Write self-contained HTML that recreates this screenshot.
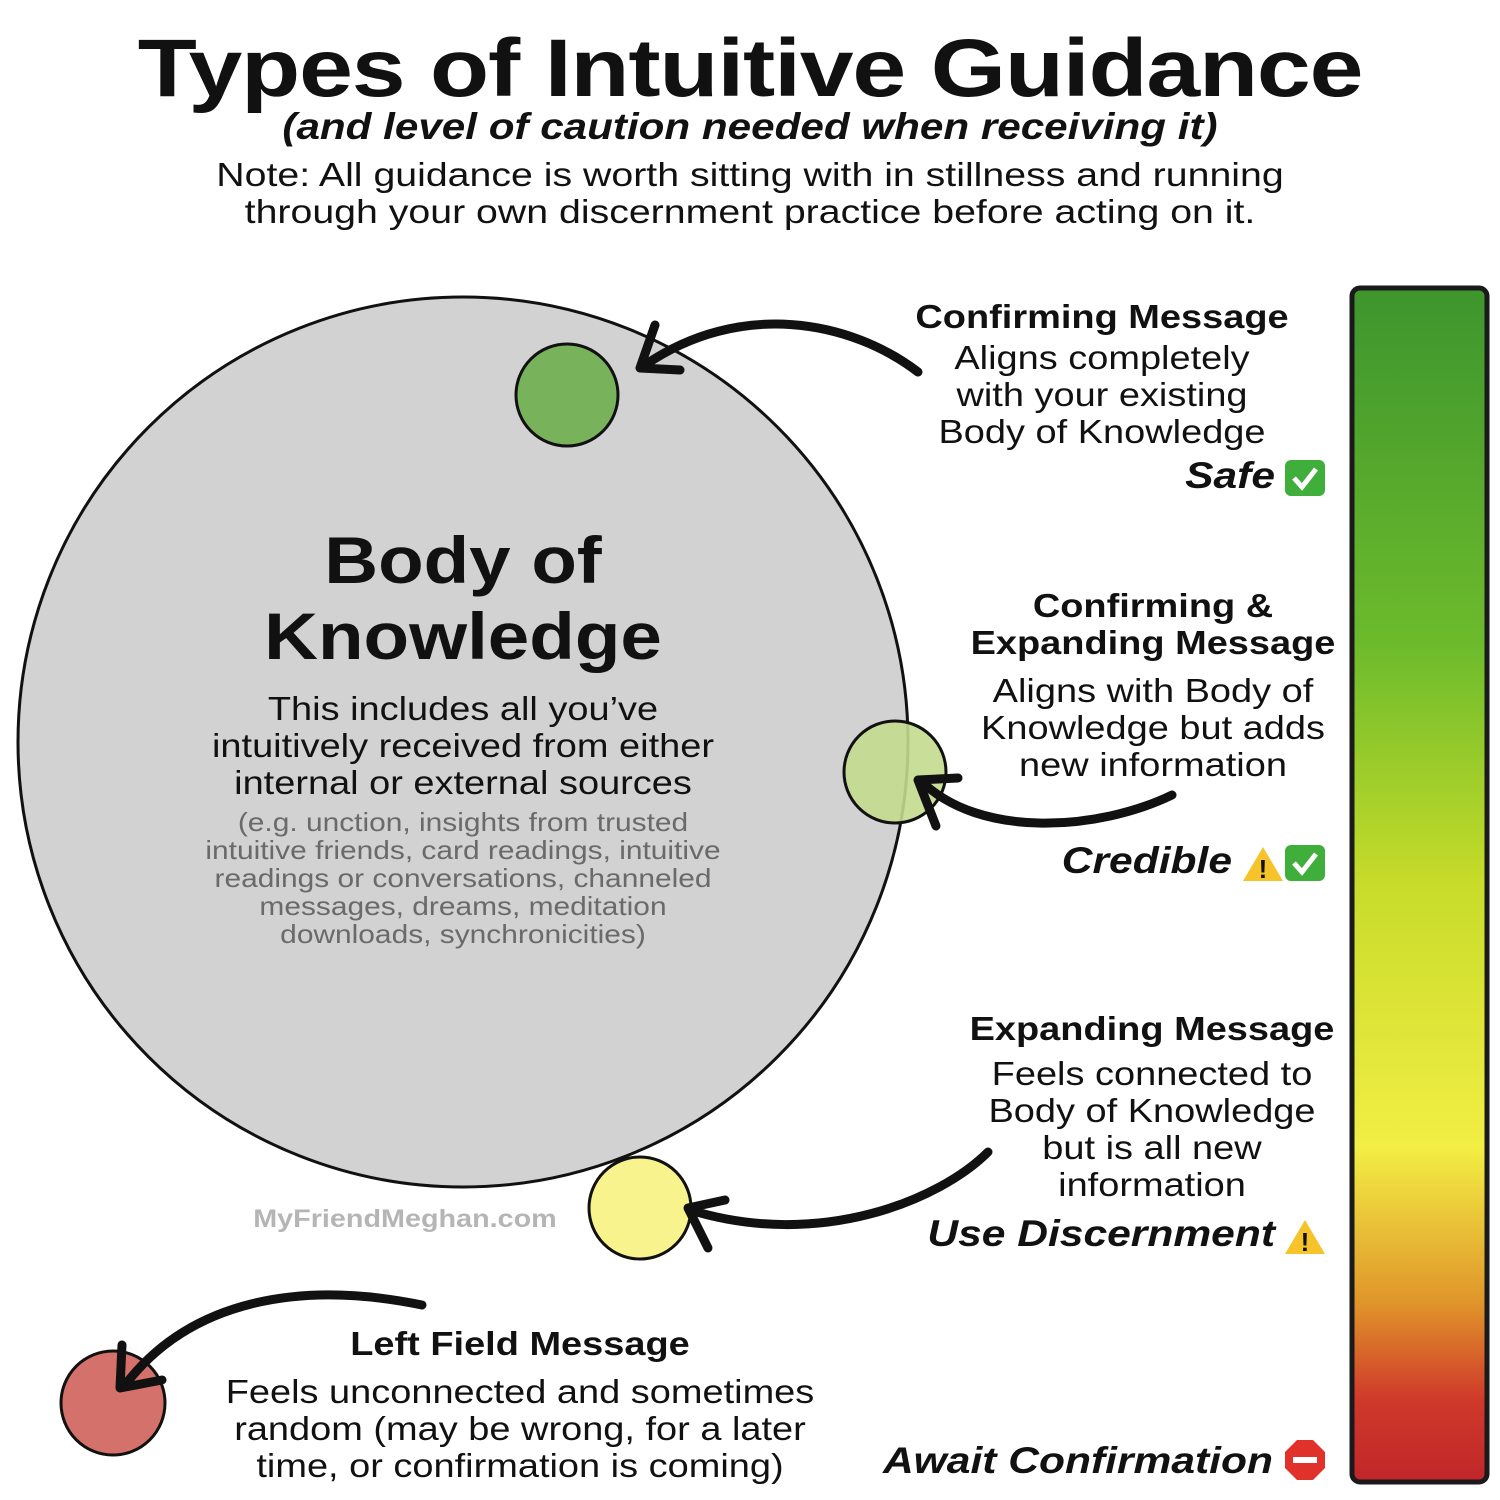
<!DOCTYPE html>
<html><head><meta charset="utf-8">
<style>
html,body{margin:0;padding:0;background:#fff;}
body{width:1500px;height:1500px;position:relative;overflow:hidden;font-family:"Liberation Sans","DejaVu Sans",sans-serif;color:#111;}
.t{position:absolute;white-space:nowrap;text-align:center;transform:scaleX(1.15);transform-origin:center;}
.r{transform-origin:right center;}
</style></head><body>
<svg width="1500" height="1500" style="position:absolute;left:0;top:0">
<defs>
<linearGradient id="g" x1="0" y1="0" x2="0" y2="1">
<stop offset="0" stop-color="#3d952d"/>
<stop offset="0.3" stop-color="#6dbb2c"/>
<stop offset="0.5" stop-color="#c8dc2a"/>
<stop offset="0.72" stop-color="#f2ee44"/>
<stop offset="0.85" stop-color="#e0952a"/>
<stop offset="0.93" stop-color="#cf3a2a"/>
<stop offset="1" stop-color="#c0262a"/>
</linearGradient>
</defs>
<rect x="1352" y="288" width="135" height="1194" rx="8" fill="url(#g)" stroke="#1a1a1a" stroke-width="5"/>
<circle cx="463" cy="742" r="445" fill="#d2d2d2" stroke="#111" stroke-width="3"/>
<circle cx="567" cy="395" r="51" fill="#78b35c" stroke="#111" stroke-width="3"/>
<circle cx="895" cy="772" r="51" fill="#c3dc8e" fill-opacity="0.9" stroke="#111" stroke-width="3"/>
<circle cx="640" cy="1208" r="51" fill="#f8f38c" stroke="#111" stroke-width="3"/>
<circle cx="113" cy="1403" r="52" fill="#d4716b" stroke="#111" stroke-width="3"/>
<g fill="none" stroke="#111" stroke-width="9" stroke-linecap="round" stroke-linejoin="round">
<path d="M918 372 C850 320 740 300 645 365"/>
<path d="M655 325 L640 368 L680 370"/>
<path d="M1172 795 C1100 830 980 840 920 780"/>
<path d="M958 778 L918 780 L936 826"/>
<path d="M988 1152 C940 1200 820 1250 690 1210"/>
<path d="M725 1200 L688 1208 L708 1248"/>
<path d="M422 1305 C300 1280 190 1300 125 1385"/>
<path d="M122 1345 L120 1388 L162 1380"/>
</g>
<g transform="translate(1285,460)"><rect width="40" height="36" rx="6" fill="#3fae3a"/><path d="M9 18 L17 27 L31 9" stroke="#fff" stroke-width="5" fill="none"/></g>
<g transform="translate(1285,845)"><rect width="40" height="36" rx="6" fill="#3fae3a"/><path d="M9 18 L17 27 L31 9" stroke="#fff" stroke-width="5" fill="none"/></g>
<g transform="translate(1243,845)"><path d="M20 2 L40 36 L0 36 Z" fill="#f6c42a"/><text x="20" y="33" font-size="26" font-weight="bold" text-anchor="middle" fill="#111" font-family="Liberation Sans">!</text></g>
<g transform="translate(1285,1218)"><path d="M20 2 L40 36 L0 36 Z" fill="#f6c42a"/><text x="20" y="33" font-size="26" font-weight="bold" text-anchor="middle" fill="#111" font-family="Liberation Sans">!</text></g>
<g transform="translate(1305,1460)"><polygon points="-8,-20 8,-20 20,-8 20,8 8,20 -8,20 -20,8 -20,-8" fill="#e0322a"/><rect x="-12" y="-3" width="24" height="6" fill="#fff"/></g>
</svg>
<div class="t" style="left:0;width:1500px;top:22px;font-size:82px;font-weight:bold;letter-spacing:-1px;transform:scaleX(1.18)">Types of Intuitive Guidance</div>
<div class="t" style="left:0;width:1500px;top:106px;font-size:37px;font-weight:bold;font-style:italic;transform:scaleX(1.14)">(and level of caution needed when receiving it)</div>
<div class="t" style="left:0;width:1500px;top:156px;font-size:33px;line-height:37px;transform:scaleX(1.19)">Note: All guidance is worth sitting with in stillness and running<br>through your own discernment practice before acting on it.</div>
<div class="t" style="left:213px;width:500px;top:522px;font-size:66px;font-weight:bold;line-height:76px;transform:scaleX(1.13)">Body of<br>Knowledge</div>
<div class="t" style="left:163px;width:600px;top:690px;font-size:33px;line-height:37px">This includes all you’ve<br>intuitively received from either<br>internal or external sources</div>
<div class="t" style="left:163px;width:600px;top:808px;font-size:26px;line-height:28px;color:#6a6a6a">(e.g. unction, insights from trusted<br>intuitive friends, card readings, intuitive<br>readings or conversations, channeled<br>messages, dreams, meditation<br>downloads, synchronicities)</div>
<div class="t" style="left:250px;width:310px;top:1205px;font-size:25px;color:#b5b5b5;font-weight:bold">MyFriendMeghan.com</div>
<div class="t" style="left:902px;width:400px;top:298px;font-size:33px;font-weight:bold">Confirming Message</div>
<div class="t" style="left:902px;width:400px;top:339px;font-size:33px;line-height:37px">Aligns completely<br>with your existing<br>Body of Knowledge</div>
<div class="t r" style="left:1100px;width:175px;top:455px;font-size:37px;font-weight:bold;font-style:italic;text-align:right">Safe</div>
<div class="t" style="left:953px;width:400px;top:587px;font-size:33px;font-weight:bold;line-height:37px">Confirming &amp;<br>Expanding Message</div>
<div class="t" style="left:953px;width:400px;top:672px;font-size:33px;line-height:37px">Aligns with Body of<br>Knowledge but adds<br>new information</div>
<div class="t r" style="left:930px;width:302px;top:840px;font-size:37px;font-weight:bold;font-style:italic;text-align:right">Credible</div>
<div class="t" style="left:952px;width:400px;top:1010px;font-size:33px;font-weight:bold">Expanding Message</div>
<div class="t" style="left:952px;width:400px;top:1055px;font-size:33px;line-height:37px">Feels connected to<br>Body of Knowledge<br>but is all new<br>information</div>
<div class="t r" style="left:830px;width:445px;top:1213px;font-size:37px;font-weight:bold;font-style:italic;text-align:right">Use Discernment</div>
<div class="t" style="left:270px;width:500px;top:1325px;font-size:33px;font-weight:bold">Left Field Message</div>
<div class="t" style="left:170px;width:700px;top:1373px;font-size:33px;line-height:37px">Feels unconnected and sometimes<br>random (may be wrong, for a later<br>time, or confirmation is coming)</div>
<div class="t r" style="left:760px;width:513px;top:1440px;font-size:37px;font-weight:bold;font-style:italic;text-align:right">Await Confirmation</div>
</body></html>
